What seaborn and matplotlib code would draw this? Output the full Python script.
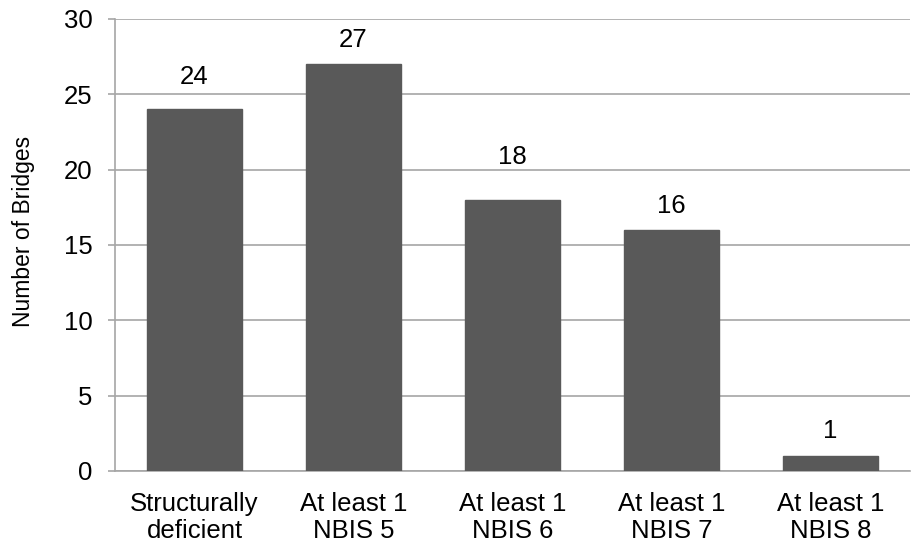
import matplotlib
matplotlib.use("Agg")
import matplotlib.pyplot as plt
import seaborn as sns
import pandas as pd

categories = ["Structurally\ndeficient", "At least 1\nNBIS 5", "At least 1\nNBIS 6",
              "At least 1\nNBIS 7", "At least 1\nNBIS 8"]
counts = [24, 27, 18, 16, 1]
y_ticks = [0, 5, 10, 15, 20, 25, 30]

# gap (pixels) between each bar top and the baseline of its value label
label_gap_px = [25, 17, 36, 17, 18]

sns.set_theme(style="white")
plt.rcParams["font.family"] = ["Liberation Sans", "DejaVu Sans"]

df = pd.DataFrame({"category": categories, "count": counts})

fig = plt.figure(figsize=(9.12, 5.48), dpi=100)
ax = fig.add_axes([115 / 912, 1 - 471 / 548, (910 - 115) / 912, (471 - 19) / 548])

sns.barplot(data=df, x="category", y="count", color="#595959", saturation=1,
            width=0.6, ax=ax, zorder=3)
for p in ax.patches:
    p.set_edgecolor("#595959")

ax.set_ylim(0, 30)
ax.set_xlim(-0.5, len(categories) - 0.5)
ax.set_yticks(y_ticks)
ax.yaxis.grid(True, color="#a6a6a6", linewidth=1.2, zorder=0)
ax.set_axisbelow(True)

for s in ["top", "right"]:
    ax.spines[s].set_visible(False)
for s in ["left", "bottom"]:
    ax.spines[s].set_color("#a6a6a6")
    ax.spines[s].set_linewidth(1.2)

fs = 18.5
ax.tick_params(axis="y", which="both", left=True, length=5, width=1.2, color="#a6a6a6",
               labelsize=fs, pad=11, labelcolor="black")
ax.tick_params(axis="x", bottom=False, labelsize=fs, pad=9, labelcolor="black")
for lab in ax.get_xticklabels():
    lab.set_linespacing(1.15)

ax.set_xlabel("")
ax.set_ylabel("Number of Bridges", fontsize=16.5, color="black", labelpad=19)
ax.yaxis.set_label_coords(-0.100, 0.531)

for i, (v, gap) in enumerate(zip(counts, label_gap_px)):
    ax.annotate(str(v), (i, v), xytext=(0, gap * 72 / fig.dpi), textcoords="offset points",
                ha="center", va="baseline", fontsize=fs, color="black")

fig.savefig("out.png", dpi=100)
